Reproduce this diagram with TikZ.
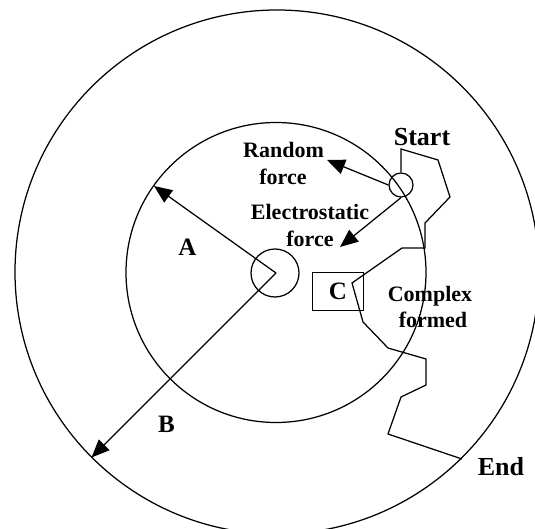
\documentclass[tikz,border=0pt]{standalone}
\usepackage{fontspec}
\setmainfont{Liberation Serif}
\usetikzlibrary{arrows.meta}
\tikzset{
  ln/.style={line width=1.25pt, line join=miter},
  arr/.style={ln, -{Triangle[length=18pt,width=15pt]}},
  lbl/.style={font=\bfseries\fontsize{22}{26}\selectfont, inner sep=0pt, anchor=base},
  big/.style={font=\bfseries\fontsize{26}{30}\selectfont, inner sep=0pt, anchor=base},
  letter/.style={font=\bfseries\fontsize{25}{30}\selectfont, inner sep=0pt},
  ring/.style={ln, draw, circle, inner sep=0pt}
}
\begin{document}
\begin{tikzpicture}[x=1pt,y=-1pt]
\useasboundingbox (0,0) rectangle (535,529);
\clip (0,0) rectangle (535,529);
\fill[white] (0,0) rectangle (535,529);
% circles
\node[ring, minimum size=524pt] (outer) at (277,272) {};
\node[ring, minimum size=300pt] (inner) at (276,272.5) {};
\node[ring, minimum size=48pt] (core) at (275,273) {};
\node[ring, minimum size=24pt] (st) at (401,185) {};
% named points
\coordinate (O) at (276,273);
\coordinate (tipA) at (154,186);
\coordinate (tipB) at (91.5,457.5);
\coordinate (tipR) at (327,160);
\coordinate (tipE) at (340,247);
\coordinate (endpt) at (462,459);
% radius arrows
\draw[arr] (O) -- (tipA);
\draw[arr] (O) -- (tipB);
% force arrows
\draw[arr] (st.west) -- (tipR);
\draw[arr] (st.south) -- (tipE);
% complex box
\node[ln, draw, letter, minimum width=50.5pt, minimum height=37.3pt] (C) at (338,291.5) {C};
% random walk path
\draw[ln] (st.north) -- (401,149) -- (438,160) -- (450,197) -- (425,223) -- (425,248)
  -- (402,248) -- (352,283) -- (363,322) -- (388,348) -- (426,359) -- (426,385)
  -- (401,397) -- (388,434) -- (endpt);
% labels
\node[lbl] (rand1) at (283.5,158) {Random};
\node[lbl] (rand2) at (283,185) {force};
\node[lbl] (elec1) at (310,220) {Electrostatic};
\node[lbl] (elec2) at (310,247) {force};
\node[lbl] (cplx1) at (430,301) {Complex};
\node[lbl] (cplx2) at (433,327) {formed};
\node[big] (start) at (422,146) {Start};
\node[big] (end) at (501,475) {End};
\node[letter] (A) at (187.5,247) {A};
\node[letter] (B) at (166.5,424) {B};
\end{tikzpicture}
\end{document}
